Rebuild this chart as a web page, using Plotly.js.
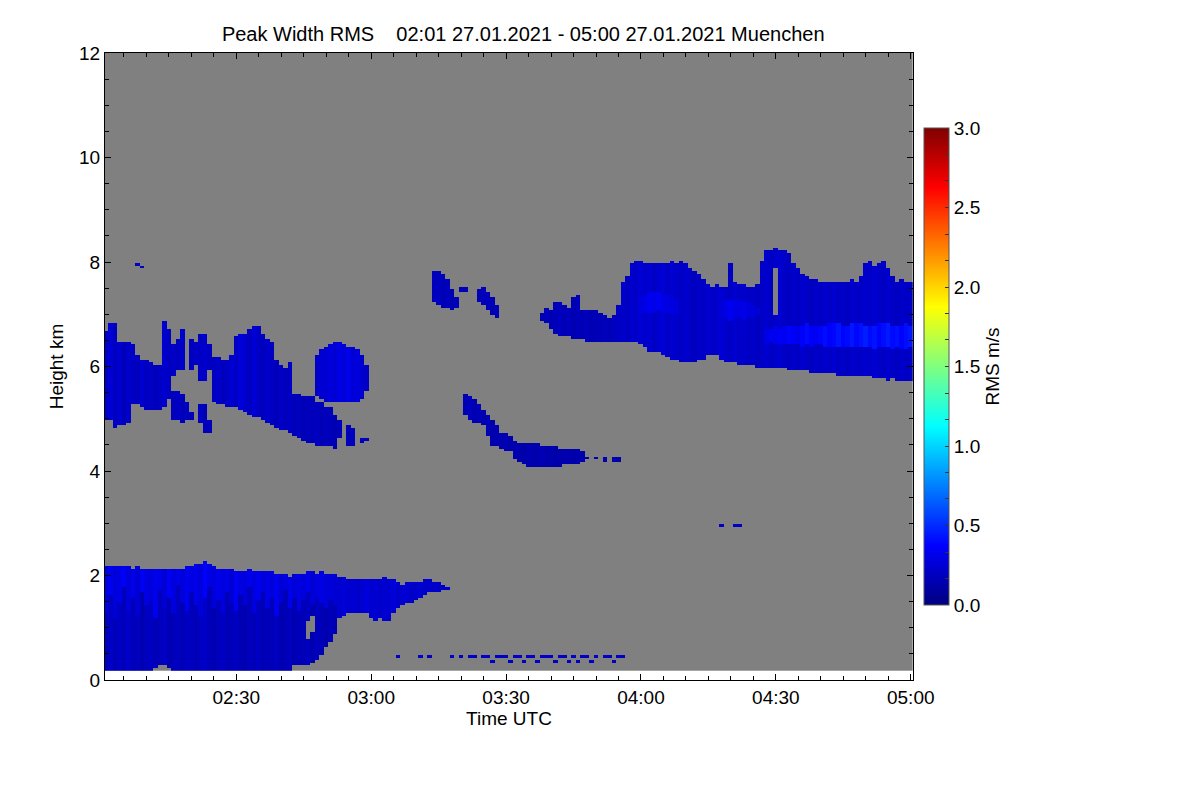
<!DOCTYPE html>
<html>
<head>
<meta charset="utf-8">
<script src="https://cdn.plot.ly/plotly-3.0.1.min.js"></script>
<style>html,body{margin:0;padding:0;background:#fff;}#chart{width:1200px;height:800px;}</style>
</head>
<body>
<div id="chart"></div>
<script>
// ---------------- DATA ----------------
// profiles: one per minute, 02:01 ... 05:00 UTC, 27.01.2021
const dayStr = '2021-01-27';
const firstMinute = 1;      // minutes after 02:00 of first profile
const lastMinute = 180;     // 05:00
// range gates (km)
const gateFirst = 0.2, gateStep = 0.05, gateCount = 237;

// Boundary-layer cloud, minutes 1..77 (top/base km, RMS m/s)
const lowStart = 1;
const lowTop = [2.16,2.17,2.15,2.16,2.17,2.15,2.14,2.15,2.13,2.12,
  2.12,2.13,2.12,2.11,2.12,2.13,2.12,2.14,2.16,2.18,
  2.2,2.24,2.27,2.22,2.18,2.14,2.12,2.1,2.1,2.09,
  2.09,2.08,2.1,2.08,2.06,2.07,2.08,2.06,2.04,2.02,
  2.0,1.99,2.0,2.02,2.04,2.05,2.05,2.04,2.05,2.03,
  2.02,2.0,1.97,1.95,1.94,1.93,1.94,1.92,1.93,1.92,
  1.93,1.94,1.95,1.93,1.9,1.87,1.82,1.86,1.88,1.87,
  1.88,1.92,1.9,1.88,1.85,1.8,1.76];
const lowBase = [0.2,0.2,0.2,0.2,0.2,0.2,0.2,0.2,0.2,0.2,
  0.2,0.25,0.27,0.27,0.25,0.2,0.2,0.2,0.2,0.2,
  0.2,0.2,0.2,0.2,0.2,0.2,0.2,0.2,0.2,0.2,
  0.2,0.2,0.2,0.2,0.2,0.2,0.2,0.2,0.2,0.2,
  0.2,0.2,0.28,0.29,0.29,0.3,0.32,0.4,0.5,0.65,
  0.75,0.86,1.2,1.24,1.27,1.3,1.3,1.3,1.3,1.2,
  1.12,1.2,1.12,1.11,1.3,1.38,1.44,1.48,1.5,1.54,
  1.58,1.62,1.67,1.68,1.7,1.72,1.73];
const lowRms = [0.18,0.21,0.16,0.2,0.17,0.22,0.16,0.19,0.15,0.18,
  0.2,0.16,0.18,0.21,0.15,0.17,0.19,0.16,0.2,0.18,
  0.16,0.19,0.22,0.17,0.15,0.18,0.2,0.16,0.17,0.19,
  0.16,0.14,0.18,0.16,0.2,0.15,0.17,0.16,0.19,0.14,
  0.16,0.18,0.15,0.17,0.16,0.19,0.15,0.18,0.16,0.14,
  0.17,0.15,0.18,0.16,0.14,0.17,0.16,0.15,0.18,0.16,
  0.14,0.17,0.15,0.16,0.18,0.14,0.16,0.15,0.17,0.14,
  0.16,0.15,0.13,0.16,0.14,0.15,0.13];
// brighter upper band of the boundary-layer cloud
const lowBandBase = [1.3,1.65,1.2,1.5,1.8,1.35,1.6,1.25,1.7,1.45,
  1.55,1.2,1.75,1.4,1.6,1.3,1.85,1.5,1.35,1.7,
  1.45,1.25,1.6,1.8,1.4,1.55,1.3,1.7,1.5,1.35,
  1.65,1.45,1.8,1.3,1.55,1.7,1.4,1.6,1.25,1.5,
  1.75,1.4,1.6,1.35,1.55,1.7,1.45,1.6,1.5,1.4,
  1.55,1.45,1.2,1.24,1.27,1.3,1.3,1.3,1.3,1.2,
  1.12,1.2,1.12,1.11,1.3,1.38,1.44,1.48,1.5,1.54,
  1.58,1.62,1.67,1.68,1.7,1.72,1.73];
const lowBandRms = [0.28,0.33,0.26,0.3,0.36,0.27,0.31,0.25,0.34,0.29,
  0.27,0.32,0.3,0.25,0.35,0.28,0.31,0.26,0.33,0.29,
  0.31,0.27,0.37,0.3,0.26,0.32,0.28,0.31,0.25,0.34,
  0.29,0.27,0.32,0.28,0.33,0.26,0.3,0.27,0.32,0.25,
  0.28,0.31,0.26,0.29,0.27,0.32,0.25,0.28,0.3,0.26,
  0.27,0.25,0.24,0.26,0.23,0.25,0.22,0.24,0.27,0.23,
  0.25,0.22,0.24,0.23,0.26,0.22,0.24,0.25,0.21,0.23,
  0.24,0.22,0.23,0.21,0.23,0.2,0.22];

// Mid-level cloud (left), minutes 1..53
const midStart = 1;
const midTop = [6.67,6.84,6.84,6.47,6.47,6.47,6.42,6.22,6.12,6.1,
  6.07,6.02,6.02,6.86,6.7,6.4,null,null,null,null,
  null,null,null,null,6.18,6.16,6.12,6.12,6.22,6.56,
  6.64,6.64,6.7,6.76,6.76,6.6,6.5,6.46,6.12,6.02,
  5.98,6.06,5.48,5.46,5.44,5.42,5.4,5.34,5.3,5.24,
  5.2,5.05,4.95];
const midBase = [4.98,4.98,4.82,4.86,4.88,4.94,5.3,5.3,5.24,5.17,
  5.17,5.17,5.17,5.24,5.38,5.82,null,null,null,null,
  null,null,null,null,5.32,5.28,5.26,5.24,5.22,5.22,
  5.18,5.14,5.09,5.04,5.02,4.98,4.94,4.9,4.84,4.8,
  4.76,4.72,4.66,4.62,4.6,4.55,4.53,4.5,4.5,4.5,
  4.47,4.45,4.62];
const midRms = [0.21,0.25,0.19,0.23,0.17,0.22,0.2,0.18,0.24,0.19,
  0.21,0.17,0.2,0.23,0.19,0.21,null,null,null,null,
  null,null,null,null,0.19,0.22,0.17,0.21,0.24,0.2,
  0.27,0.23,0.19,0.25,0.21,0.18,0.22,0.19,0.17,0.21,
  0.18,0.2,0.17,0.19,0.16,0.18,0.17,0.19,0.16,0.18,
  0.17,0.15,0.17];
// thin upper streaks, minutes 17..24
const stripeStart = 17;
const stripeTop = [6.5,6.74,null,6.5,6.46,6.64,6.6,6.4];
const stripeBase = [5.95,5.92,null,5.92,6.02,5.72,5.75,5.95];
const stripeRms = [0.19,0.22,null,0.18,0.21,0.2,0.23,0.19];
// lower fragments, minutes 16..24 and 55..59
const fragAStart = 16;
const fragATop = [5.5,5.5,5.45,5.3,5.1,null,5.26,5.26,4.95];
const fragABase = [5.0,4.98,4.95,4.98,5.0,null,4.95,4.74,4.74];
const fragARms = [0.18,0.2,0.17,0.19,0.17,null,0.19,0.17,0.18];
const fragBStart = 55;
const fragBTop = [4.88,4.8,null,4.62,4.64];
const fragBBase = [4.46,4.46,null,4.55,4.56];
const fragBRms = [0.17,0.19,null,0.17,0.18];
// isolated cell near 03:00, minutes 48..59
const blobStart = 48;
const blobTop = [6.22,6.32,6.37,6.43,6.45,6.45,6.41,6.39,6.36,6.31,6.21,6.02];
const blobBase = [5.43,5.38,5.33,5.33,5.35,5.33,5.31,5.31,5.31,5.33,5.38,5.52];
const blobRms = [0.21,0.25,0.23,0.28,0.24,0.3,0.26,0.31,0.25,0.28,0.23,0.21];

// small patches near 7.5 km, minutes 74..88
const patchStart = 74;
const patchTop = [7.8,7.8,7.75,7.65,7.45,7.3,7.5,7.5,null,null,7.45,7.5,7.42,7.3,7.15];
const patchBase = [7.22,7.18,7.15,7.12,7.1,7.12,7.43,7.43,null,null,7.25,7.2,7.1,7.0,6.92];
const patchRms = [0.17,0.19,0.16,0.18,0.15,0.17,0.17,0.17,null,null,0.16,0.18,0.17,0.15,0.16];

// descending band, minutes 81..115
const descStart = 81;
const descTop = [5.48,5.44,5.36,5.28,5.16,5.06,4.96,4.86,4.74,4.7,
  4.68,4.56,4.52,4.51,4.51,4.51,4.5,4.49,4.48,4.47,
  4.46,4.44,4.42,4.41,4.41,4.42,4.36,4.26,null,4.26,
  null,4.26,null,4.28,4.26];
const descBase = [5.06,4.96,4.91,4.94,4.86,4.66,4.48,4.46,4.41,4.38,
  4.36,4.21,4.16,4.11,4.06,4.06,4.06,4.06,4.06,4.08,
  4.09,4.1,4.11,4.12,4.13,4.14,4.16,4.21,null,4.21,
  null,4.18,null,4.18,4.2];
const descRms = [0.16,0.18,0.15,0.17,0.14,0.16,0.13,0.15,0.14,0.16,
  0.13,0.15,0.14,0.12,0.15,0.13,0.14,0.16,0.13,0.15,
  0.12,0.14,0.13,0.15,0.12,0.14,0.13,0.15,null,0.14,
  null,0.13,null,0.14,0.13];

// upper cloud deck, minutes 98..180
const upStart = 98;
const upTop = [7.0,7.1,7.05,7.2,7.24,7.15,7.12,7.3,7.35,7.08,
  7.08,7.06,7.05,7.0,6.95,6.9,6.95,7.15,7.6,7.7,
  7.95,8.02,8.0,7.95,7.98,7.96,7.98,7.95,7.97,8.0,
  7.98,8.0,7.95,7.85,7.8,7.75,7.65,7.55,7.53,7.55,
  7.52,7.5,7.95,7.6,7.58,7.55,7.52,7.5,7.55,8.0,
  8.2,8.22,8.25,8.22,8.2,8.15,7.95,7.85,7.75,7.7,
  7.68,7.65,7.62,7.6,7.62,7.6,7.62,7.6,7.62,7.65,
  7.62,7.7,7.95,8.0,7.9,7.95,8.0,7.85,7.7,7.6,
  7.65,7.6,7.62];
const upBase = [6.9,6.85,6.75,6.65,6.6,6.58,6.56,6.55,6.55,6.52,
  6.5,6.48,6.47,6.47,6.48,6.48,6.5,6.5,6.5,6.5,
  6.48,6.46,6.42,6.38,6.3,6.28,6.26,6.22,6.2,6.15,
  6.12,6.08,6.07,6.08,6.1,6.12,6.15,6.22,6.24,6.22,
  6.15,6.1,6.08,6.06,6.05,6.05,6.03,6.02,6.0,6.0,
  6.0,5.98,5.97,5.96,5.96,5.95,5.94,5.94,5.93,5.92,
  5.9,5.89,5.88,5.87,5.86,5.86,5.85,5.84,5.84,5.83,
  5.84,5.82,5.83,5.84,5.8,5.78,5.76,5.75,5.76,5.74,
  5.73,5.74,5.72];
const upRms = [0.16,0.18,0.15,0.17,0.19,0.16,0.18,0.15,0.17,0.16,
  0.18,0.15,0.17,0.16,0.18,0.16,0.19,0.2,0.22,0.2,
  0.23,0.21,0.25,0.22,0.24,0.2,0.23,0.26,0.21,0.24,
  0.22,0.2,0.23,0.21,0.19,0.22,0.2,0.24,0.21,0.23,
  0.25,0.22,0.2,0.24,0.21,0.23,0.2,0.22,0.19,0.21,
  0.23,0.2,0.22,0.24,0.21,0.19,0.22,0.2,0.23,0.21,
  0.19,0.22,0.2,0.23,0.21,0.24,0.2,0.22,0.19,0.23,
  0.21,0.2,0.23,0.21,0.24,0.22,0.2,0.23,0.21,0.19,
  0.22,0.2,0.21];
// brighter cores in the upper deck
const coreAStart = 120;
const coreATop = [7.3,7.38,7.4,7.42,7.4,7.38,7.35,7.3,7.25,null,
  null,null,null,null,null,null,null,null,7.2,7.25,
  7.28,7.26,7.25,7.22,7.2,7.15,7.1];
const coreABase = [7.0,7.02,7.05,7.05,7.08,7.05,7.02,7.0,7.0,null,
  null,null,null,null,null,null,null,null,6.95,6.92,
  6.9,6.92,6.95,6.9,6.92,6.95,6.98];
const coreARms = [0.28,0.3,0.33,0.31,0.34,0.3,0.29,0.28,0.27,null,
  null,null,null,null,null,null,null,null,0.27,0.3,
  0.33,0.3,0.29,0.31,0.28,0.27,0.26];
const coreBStart = 148;
const coreBTop = [6.7,6.72,6.75,6.74,6.76,6.78,6.76,6.75,6.78,6.8,
  6.78,6.76,6.75,6.78,6.8,6.82,6.8,6.78,6.76,6.8,
  6.82,6.8,6.78,6.76,6.78,6.8,6.82,6.8,6.78,6.76,
  6.78,6.8,6.78];
const coreBBase = [6.45,6.46,6.44,6.45,6.44,6.42,6.43,6.42,6.4,6.42,
  6.4,6.41,6.42,6.4,6.38,6.4,6.39,6.4,6.38,6.36,
  6.38,6.4,6.38,6.36,6.35,6.37,6.38,6.36,6.35,6.36,
  6.34,6.35,6.36];
const coreBRms = [0.3,0.34,0.32,0.36,0.33,0.38,0.35,0.32,0.37,0.4,
  0.36,0.34,0.38,0.41,0.37,0.39,0.43,0.38,0.4,0.44,
  0.39,0.42,0.46,0.4,0.43,0.38,0.41,0.45,0.4,0.42,
  0.38,0.41,0.44];

// clear gaps inside clouds (minute, top, base)
const gapMinute = [46,47,150];
const gapTop = [1.1,1.2,7.85];
const gapBase = [0.8,0.95,7.0];

// isolated single echoes (minute, height km, RMS)
const speckMinute = [66,71,73,78,80,82,83,85,86,88,89,90,92,93,95,96,98,99,100,102,103,105,107,108,110,112,113,115,116,
  87,91,94,97,101,104,106,109,114, 138,141,142, 8,9];
const speckHeight = [0.44,0.44,0.44,0.44,0.44,0.44,0.44,0.44,0.44,0.44,0.44,0.44,0.44,0.44,0.44,0.44,0.44,0.44,0.44,0.44,0.44,0.44,0.44,0.44,0.44,0.44,0.44,0.44,0.44,
  0.34,0.34,0.34,0.34,0.34,0.34,0.34,0.34,0.34, 2.93,2.93,2.93, 7.94,7.9];
const speckRms = [0.2,0.22,0.2,0.21,0.2,0.22,0.2,0.21,0.2,0.22,0.2,0.21,0.2,0.22,0.2,0.21,0.2,0.22,0.2,0.21,0.2,0.22,0.2,0.21,0.2,0.22,0.2,0.21,0.2,
  0.2,0.22,0.2,0.21,0.2,0.22,0.2,0.21,0.2, 0.2,0.22,0.2, 0.2,0.2];

// colour bar ticks
const cbTickVals = [0,0.1667,0.3333,0.5,0.6667,0.8333,1,1.1667,1.3333,1.5,1.6667,1.8333,2,2.1667,2.3333,2.5,2.6667,2.8333,3];
const cbTickText = ['0.0','','','0.5','','','1.0','','','1.5','','','2.0','','','2.5','','','3.0'];

const titleText = 'Peak Width RMS\u00a0\u00a0\u00a0 02:01 27.01.2021 - 05:00 27.01.2021 Muenchen';

// ---------------- build the grid ----------------
function pad(n){return (n<10?'0':'')+n;}
const times = [];
for (let m = firstMinute; m <= lastMinute; m++) {
  const hh = 2 + Math.floor(m/60), mm = m % 60;
  times.push(dayStr + ' ' + pad(hh) + ':' + pad(mm) + ':00');
}
const heights = [];
for (let k = 0; k < gateCount; k++) heights.push(Math.round((gateFirst + gateStep*k)*1000)/1000);

const nCol = times.length, nRow = heights.length;
const z = [], zBg = [];
for (let r = 0; r < nRow; r++) { z.push(new Array(nCol).fill(null)); zBg.push(new Array(nCol).fill(0)); }

function paint(start, top, base, rms) {
  for (let i = 0; i < top.length; i++) {
    if (top[i] === null || base[i] === null) continue;
    const c = start - firstMinute + i;
    if (c < 0 || c >= nCol) continue;
    for (let r = 0; r < nRow; r++) {
      const h = heights[r];
      if (h >= base[i] - 1e-6 && h <= top[i] + 1e-6) z[r][c] = rms[i];
    }
  }
}
paint(lowStart, lowTop, lowBase, lowRms);
paint(lowStart, lowTop, lowBandBase, lowBandRms);
paint(midStart, midTop, midBase, midRms);
paint(stripeStart, stripeTop, stripeBase, stripeRms);
paint(fragAStart, fragATop, fragABase, fragARms);
paint(fragBStart, fragBTop, fragBBase, fragBRms);
paint(blobStart, blobTop, blobBase, blobRms);
paint(patchStart, patchTop, patchBase, patchRms);
paint(descStart, descTop, descBase, descRms);
paint(upStart, upTop, upBase, upRms);
paint(coreAStart, coreATop, coreABase, coreARms);
paint(coreBStart, coreBTop, coreBBase, coreBRms);
for (let g = 0; g < gapMinute.length; g++) {
  const c = gapMinute[g] - firstMinute;
  for (let r = 0; r < nRow; r++) {
    const h = heights[r];
    if (h >= gapBase[g] - 1e-6 && h <= gapTop[g] + 1e-6) z[r][c] = null;
  }
}
for (let s = 0; s < speckMinute.length; s++) {
  const c = speckMinute[s] - firstMinute;
  const r = Math.round((speckHeight[s] - gateFirst) / gateStep);
  if (r >= 0 && r < nRow) z[r][c] = speckRms[s];
}

const jet = [[0,'rgb(0,0,128)'],[0.125,'rgb(0,0,255)'],[0.375,'rgb(0,255,255)'],[0.625,'rgb(255,255,0)'],[0.875,'rgb(255,0,0)'],[1,'rgb(128,0,0)']];
const FONT = 'Liberation Sans, Arial, Helvetica, sans-serif';

const bg = {
  type: 'heatmap', x: times, y: heights, z: zBg,
  colorscale: [[0,'rgb(128,128,128)'],[1,'rgb(128,128,128)']],
  zmin: 0, zmax: 1, showscale: false, hoverinfo: 'skip', zsmooth: false
};
const data = {
  type: 'heatmap', x: times, y: heights, z: z,
  colorscale: jet, zmin: 0, zmax: 3, zsmooth: false, hoverongaps: false,
  colorbar: {
    x: 1.0131, xanchor: 'left', xpad: 0, y: 0.5, yanchor: 'middle', ypad: 0,
    len: 0.7608, lenmode: 'fraction', thickness: 25, thicknessmode: 'pixels',
    outlinewidth: 1, outlinecolor: '#555',
    ticks: 'inside', ticklen: 4, tickcolor: '#333', tickwidth: 1,
    tickvals: cbTickVals, ticktext: cbTickText,
    tickfont: {family: FONT, size: 19, color: '#000'},
    title: {text: 'RMS m/s', side: 'right', font: {family: FONT, size: 19, color: '#000'}}
  }
};

const layout = {
  width: 1200, height: 800,
  paper_bgcolor: '#fff', plot_bgcolor: '#fff',
  margin: {l: 105, r: 287, t: 53, b: 120, pad: 0},
  font: {family: FONT, size: 19, color: '#000'},
  title: {text: titleText, x: 0.436, xref: 'container', xanchor: 'center',
          y: 1 - 34/800, yref: 'container', yanchor: 'middle',
          font: {family: FONT, size: 20, color: '#000'}},
  xaxis: {
    type: 'date', range: [dayStr + ' 02:00:48', dayStr + ' 05:00:30'],
    tick0: dayStr + ' 02:00:00', dtick: 30*60*1000, tickformat: '%H:%M',
    ticks: 'inside', ticklen: 6, tickwidth: 1, tickcolor: '#000',
    minor: {dtick: 5*60*1000, ticks: 'inside', ticklen: 4, tickcolor: '#000', showgrid: false},
    showline: true, linecolor: '#000', linewidth: 1, mirror: 'ticks',
    showgrid: false, zeroline: false,
    tickfont: {family: FONT, size: 19, color: '#000'},
    title: {text: 'Time UTC', standoff: 4, font: {family: FONT, size: 19, color: '#000'}}
  },
  yaxis: {
    range: [0, 12], dtick: 2, tick0: 0,
    ticks: 'inside', ticklen: 6, tickwidth: 1, tickcolor: '#000',
    minor: {dtick: 0.5, ticks: 'inside', ticklen: 4, tickcolor: '#000', showgrid: false},
    showline: true, linecolor: '#000', linewidth: 1, mirror: 'ticks',
    showgrid: false, zeroline: false,
    tickfont: {family: FONT, size: 19, color: '#000'},
    title: {text: 'Height km', standoff: 10, font: {family: FONT, size: 19, color: '#000'}}
  },
  showlegend: false
};

Plotly.newPlot('chart', [bg, data], layout, {displayModeBar: false, staticPlot: true});
</script>
</body>
</html>
